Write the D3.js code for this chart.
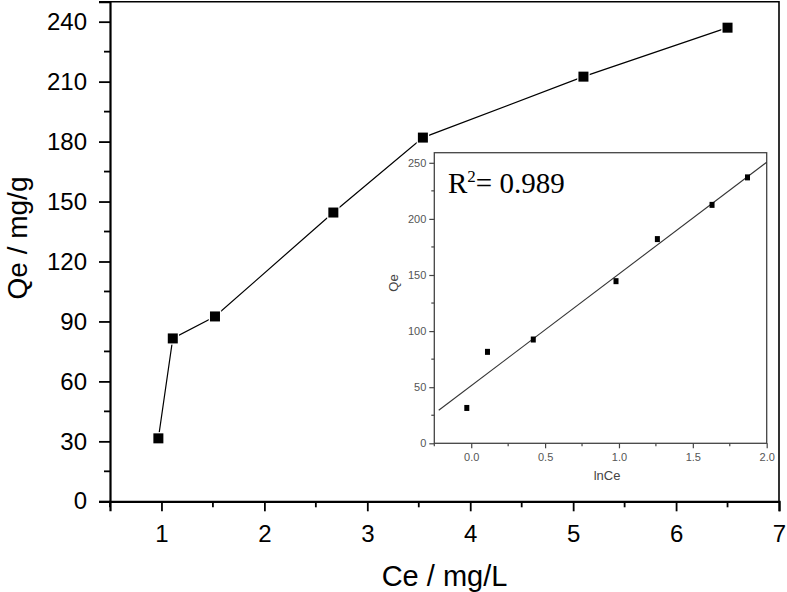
<!DOCTYPE html>
<html>
<head>
<meta charset="utf-8">
<script src="https://cdn.jsdelivr.net/npm/d3@7"></script>
<style>
  html, body { margin: 0; padding: 0; background: #fff; }
  svg { display: block; }
</style>
</head>
<body>
<svg id="chart" width="787" height="592"></svg>
<script>
// ---- data ----
const ce = [0.97, 1.11, 1.52, 2.67, 3.54, 5.10, 6.50];
const qe = [31.5, 81.5, 92.5, 144.5, 182, 212.5, 237];
const lnCe = [-0.03, 0.11, 0.42, 0.98, 1.26, 1.63, 1.87];
const qeInset = [31.5, 81.5, 92.5, 144.5, 182, 212.5, 237];
const fitX = [-0.22, 2.0];
const fitY = [29.5, 250.5];
const xTicks = [1, 2, 3, 4, 5, 6, 7];
const yTicks = [0, 30, 60, 90, 120, 150, 180, 210, 240];
const insetXTicks = [0.0, 0.5, 1.0, 1.5, 2.0];
const insetYTicks = [0, 50, 100, 150, 200, 250];
const r2Text = "0.989";

const svg = d3.select("#chart");
const font = "'Liberation Sans', Arial, Helvetica, sans-serif";

// ---- main plot ----
const L = 110, R = 779, T = 1.7, B = 501.3;
const x = d3.scaleLinear().domain([0.5, 7]).range([L, R]);
const y = d3.scaleLinear().domain([0, 250]).range([B, T]);

// frame top/right
svg.append("path")
  .attr("d", `M${L},${T}H${R}V${B}`)
  .attr("fill", "none").attr("stroke", "#000").attr("stroke-width", 1.6);

// minor ticks
const xMinor = d3.range(0.5, 7.01, 0.5).filter(v => !xTicks.includes(v));
const yMinor = d3.range(15, 250, 30);

const gx = svg.append("g").attr("transform", `translate(0,${B})`);
gx.call(d3.axisBottom(x).tickValues(xTicks).tickSize(10).tickPadding(14).tickFormat(d3.format("d")))
  .call(g => g.select(".domain").attr("stroke-width", 2.2))
  .call(g => g.selectAll(".tick line").attr("stroke-width", 1.8))
  .call(g => g.selectAll("text").attr("font-family", font).attr("font-size", 24).attr("fill", "#000"));
gx.selectAll(".minor").data(xMinor).enter().append("line")
  .attr("x1", d => x(d)).attr("x2", d => x(d)).attr("y1", 0).attr("y2", 6)
  .attr("stroke", "#000").attr("stroke-width", 1.8);

const gy = svg.append("g").attr("transform", `translate(${L},0)`);
gy.call(d3.axisLeft(y).tickValues(yTicks).tickSize(11).tickPadding(12).tickFormat(d3.format("d")))
  .call(g => g.select(".domain").attr("stroke-width", 2.2))
  .call(g => g.selectAll(".tick line").attr("stroke-width", 1.8))
  .call(g => g.selectAll("text").attr("font-family", font).attr("font-size", 24).attr("fill", "#000"));
gy.selectAll(".minor").data(yMinor).enter().append("line")
  .attr("x1", 0).attr("x2", -6).attr("y1", d => y(d)).attr("y2", d => y(d))
  .attr("stroke", "#000").attr("stroke-width", 1.8);

// axis titles
svg.append("text").attr("x", (L + R) / 2 - 0).attr("y", 586)
  .attr("text-anchor", "middle").attr("font-family", font).attr("font-size", 29)
  .text("Ce / mg/L");
svg.append("text").attr("transform", "translate(27,238) rotate(-90)")
  .attr("text-anchor", "middle").attr("font-family", font).attr("font-size", 28)
  .text("Qe / mg/g");

// line + markers
const mainPts = ce.map((c, i) => [c, qe[i]]);
svg.append("path").datum(mainPts)
  .attr("d", d3.line().x(d => x(d[0])).y(d => y(d[1])))
  .attr("fill", "none").attr("stroke", "#000").attr("stroke-width", 1.2);
svg.selectAll(".m").data(mainPts).enter().append("rect")
  .attr("x", d => x(d[0]) - 5).attr("y", d => y(d[1]) - 5)
  .attr("width", 10).attr("height", 10)
  .attr("fill", "#000").attr("stroke", "#fff").attr("stroke-width", 2.5)
  .attr("paint-order", "stroke");

// ---- inset ----
const iL = 434.3, iR = 766.7, iT = 152.7, iB = 443.3;
const ix = d3.scaleLinear().domain([-0.25, 2.0]).range([iL, iR]);
const iy = d3.scaleLinear().domain([0, 259]).range([iB, iT]);
const insetCol = "#444";

svg.append("rect").attr("x", iL).attr("y", iT).attr("width", iR - iL).attr("height", iB - iT)
  .attr("fill", "#fff").attr("stroke", insetCol).attr("stroke-width", 1.3);

const igx = svg.append("g").attr("transform", `translate(0,${iB})`);
igx.call(d3.axisBottom(ix).tickValues(insetXTicks).tickSize(5).tickPadding(5).tickFormat(d3.format(".1f")))
  .call(g => g.select(".domain").remove())
  .call(g => g.selectAll(".tick line").attr("stroke", insetCol).attr("stroke-width", 1.2))
  .call(g => g.selectAll("text").attr("font-family", font).attr("font-size", 11).attr("fill", "#555"));
igx.selectAll(".minor").data(d3.range(-0.25, 2.0, 0.5)).enter().append("line")
  .attr("x1", d => ix(d)).attr("x2", d => ix(d)).attr("y1", 0).attr("y2", 3)
  .attr("stroke", insetCol).attr("stroke-width", 1.2);

const igy = svg.append("g").attr("transform", `translate(${iL},0)`);
igy.call(d3.axisLeft(iy).tickValues(insetYTicks).tickSize(5).tickPadding(3).tickFormat(d3.format("d")))
  .call(g => g.select(".domain").remove())
  .call(g => g.selectAll(".tick line").attr("stroke", insetCol).attr("stroke-width", 1.2))
  .call(g => g.selectAll("text").attr("font-family", font).attr("font-size", 11).attr("fill", "#555"));
igy.selectAll(".minor").data(d3.range(25, 259, 50)).enter().append("line")
  .attr("x1", 0).attr("x2", -3).attr("y1", d => iy(d)).attr("y2", d => iy(d))
  .attr("stroke", insetCol).attr("stroke-width", 1.2);

svg.append("text").attr("x", 607).attr("y", 480)
  .attr("text-anchor", "middle").attr("font-family", font).attr("font-size", 13).attr("fill", "#444")
  .text("lnCe");
svg.append("text").attr("transform", "translate(398,283) rotate(-90)")
  .attr("text-anchor", "middle").attr("font-family", font).attr("font-size", 13).attr("fill", "#444")
  .text("Qe");

// fit line
svg.append("line")
  .attr("x1", ix(fitX[0])).attr("y1", iy(fitY[0]))
  .attr("x2", ix(fitX[1])).attr("y2", iy(fitY[1]))
  .attr("stroke", "#333").attr("stroke-width", 1.1);

// inset markers
const insetPts = lnCe.map((v, i) => [v, qeInset[i]]);
svg.selectAll(".im").data(insetPts).enter().append("rect")
  .attr("x", d => ix(d[0]) - 2.5).attr("y", d => iy(d[1]) - 3)
  .attr("width", 5).attr("height", 6).attr("fill", "#000");

// R^2 label
const r2 = svg.append("text").attr("x", 448).attr("y", 193)
  .attr("font-family", "'Liberation Serif', 'Times New Roman', serif").attr("font-size", 29).attr("fill", "#000");
r2.append("tspan").text("R");
r2.append("tspan").attr("font-size", 17).attr("dy", -11).text("2");
r2.append("tspan").attr("dy", 11).text("= " + r2Text);
</script>
</body>
</html>
